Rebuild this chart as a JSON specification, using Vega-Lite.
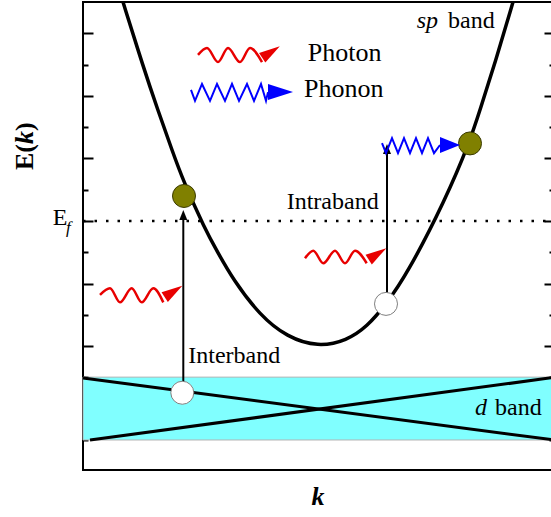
{
  "$schema": "https://vega.github.io/schema/vega-lite/v6.json",
  "width": 471,
  "height": 468,
  "autosize": "none",
  "padding": {"left": 83, "top": 2, "right": 0, "bottom": 47},
  "background": "white",
  "config": {"view": {"stroke": "black", "strokeWidth": 2}, "font": "Liberation Serif"},
  "resolve": {"axis": {"y": "independent"}},
  "datasets": {
    "band": [{"k": -2.36, "k2": 2.35, "E": 0, "E2": 2.01}],
    "dlines": [
      {"s": "a", "k": -2.36, "E": 1.98}, {"s": "a", "k": 2.35, "E": 0.0},
      {"s": "b", "k": -2.29, "E": 0.0}, {"s": "b", "k": 2.35, "E": 2.0}
    ],
    "sp": [
      {"k": -1.96, "E": 14.0}, {"k": -1.76, "E": 11.95}, {"k": -1.61, "E": 10.53}, {"k": -1.47, "E": 9.27},
      {"k": -1.36, "E": 8.3}, {"k": -1.14, "E": 6.74}, {"k": -1.02, "E": 6.04}, {"k": -0.86, "E": 5.13},
      {"k": -0.59, "E": 3.98}, {"k": -0.32, "E": 3.29}, {"k": -0.01, "E": 2.97}, {"k": 0.28, "E": 3.18},
      {"k": 0.48, "E": 3.62}, {"k": 0.67, "E": 4.33}, {"k": 0.88, "E": 5.3}, {"k": 1.26, "E": 7.65},
      {"k": 1.51, "E": 9.55}, {"k": 1.61, "E": 10.55}, {"k": 1.76, "E": 12.05}, {"k": 1.94, "E": 14.0}
    ],
    "fermi": [{"k": -2.36, "E": 7}, {"k": 2.35, "E": 7}],
    "arrows": [{"k": -1.357, "E": 1.51, "E2": 7.1}, {"k": 0.68, "E": 4.35, "E2": 9.25}],
    "heads": [{"k": -1.357, "E": 7.19}, {"k": 0.68, "E": 9.3}],
    "holes": [{"k": -1.367, "E": 1.51}, {"k": 0.67, "E": 4.35}],
    "electrons": [{"k": -1.35, "E": 7.8}, {"k": 1.51, "E": 9.48}],
    "photons": [
      {"w": "w1", "k": -1.21, "E": 12.31}, {"w": "w1", "k": -1.12, "E": 12.53}, {"w": "w1", "k": -1.01, "E": 12.08},
      {"w": "w1", "k": -0.91, "E": 12.53}, {"w": "w1", "k": -0.79, "E": 12.08}, {"w": "w1", "k": -0.69, "E": 12.53},
      {"w": "w1", "k": -0.57, "E": 12.08},
      {"w": "w2", "k": -2.19, "E": 4.64}, {"w": "w2", "k": -2.09, "E": 4.85}, {"w": "w2", "k": -1.99, "E": 4.40},
      {"w": "w2", "k": -1.873, "E": 4.85}, {"w": "w2", "k": -1.773, "E": 4.40}, {"w": "w2", "k": -1.657, "E": 4.85},
      {"w": "w2", "k": -1.557, "E": 4.40},
      {"w": "w3", "k": -0.14, "E": 5.81}, {"w": "w3", "k": -0.057, "E": 6.05}, {"w": "w3", "k": 0.043, "E": 5.65},
      {"w": "w3", "k": 0.16, "E": 6.05}, {"w": "w3", "k": 0.26, "E": 5.65}, {"w": "w3", "k": 0.36, "E": 6.05},
      {"w": "w3", "k": 0.477, "E": 5.65}
    ],
    "photonHeads": [{"k": -0.48, "E": 12.4}, {"k": -1.455, "E": 4.75}, {"k": 0.585, "E": 5.95}],
    "phonons": [
      {"w": "z1", "k": -1.28, "E": 11.19}, {"w": "z1", "k": -1.24, "E": 10.84}, {"w": "z1", "k": -1.17, "E": 11.38},
      {"w": "z1", "k": -1.09, "E": 10.84}, {"w": "z1", "k": -1.02, "E": 11.38}, {"w": "z1", "k": -0.94, "E": 10.84},
      {"w": "z1", "k": -0.87, "E": 11.38}, {"w": "z1", "k": -0.80, "E": 10.84}, {"w": "z1", "k": -0.72, "E": 11.38},
      {"w": "z1", "k": -0.65, "E": 10.84}, {"w": "z1", "k": -0.58, "E": 11.38}, {"w": "z1", "k": -0.53, "E": 10.84},
      {"w": "z1", "k": -0.51, "E": 11.12},
      {"w": "z2", "k": 0.63, "E": 9.49}, {"w": "z2", "k": 0.67, "E": 9.17}, {"w": "z2", "k": 0.73, "E": 9.65},
      {"w": "z2", "k": 0.79, "E": 9.17}, {"w": "z2", "k": 0.85, "E": 9.65}, {"w": "z2", "k": 0.91, "E": 9.17},
      {"w": "z2", "k": 0.97, "E": 9.65}, {"w": "z2", "k": 1.03, "E": 9.17}, {"w": "z2", "k": 1.09, "E": 9.65},
      {"w": "z2", "k": 1.15, "E": 9.17}, {"w": "z2", "k": 1.21, "E": 9.43}
    ],
    "phononHeadLegend": [{"k": -0.385, "E": 11.12}],
    "phononHeadIntra": [{"k": 1.31, "E": 9.43}],
    "legendText": [{"t": "Photon", "k": -0.113, "E": 12.124}, {"t": "Phonon", "k": -0.15, "E": 10.973}],
    "plainText": [
      {"t": "Intraband", "k": -0.323, "E": 7.374}, {"t": "Interband", "k": -1.307, "E": 2.452},
      {"t": "band", "k": 1.29, "E": 13.16}, {"t": "band", "k": 1.76, "E": 0.8}, {"t": "E", "k": -2.663, "E": 6.87}
    ],
    "italicText": [{"t": "sp", "k": 0.977, "E": 13.16}, {"t": "d", "k": 1.56, "E": 0.8}],
    "subText": [{"t": "f", "k": -2.53, "E": 6.62}],
    "titleBold": [{"t": "E(", "k": -2.86, "E": 8.63}, {"t": ")", "k": -2.86, "E": 9.877}],
    "titleItalic": [{"t": "k", "k": -2.86, "E": 9.46}],
    "xTitle": [{"t": "k", "k": -0.01, "E": -2.08}]
  },
  "encoding": {
    "x": {"field": "k", "type": "quantitative", "scale": {"domain": [-2.36, 2.35], "nice": false, "zero": false}, "axis": null},
    "y": {"field": "E", "type": "quantitative", "scale": {"domain": [-0.959, 14.0], "nice": false, "zero": false}, "axis": null}
  },
  "layer": [
    {
      "data": {"name": "band"},
      "mark": {"type": "rect", "fill": "#80ffff", "stroke": "#b4b4b4", "strokeWidth": 1},
      "encoding": {
        "x2": {"field": "k2"},
        "y": {"field": "E", "type": "quantitative", "scale": {"domain": [-0.959, 14.0], "nice": false, "zero": false},
              "axis": {"orient": "left", "values": [0,1,2,3,4,5,6,7,8,9,10,11,12,13], "domain": false, "labels": false, "grid": false, "title": null,
                       "tickColor": "black", "tickWidth": 2,
                       "tickSize": {"condition": {"test": "datum.value % 2 === 1", "value": -10}, "value": -5}}},
        "y2": {"field": "E2"}
      }
    },
    {
      "data": {"name": "dlines"},
      "mark": {"type": "line", "color": "black", "strokeWidth": 3},
      "encoding": {
        "detail": {"field": "s"},
        "y": {"field": "E", "type": "quantitative", "scale": {"domain": [-0.959, 14.0], "nice": false, "zero": false},
              "axis": {"orient": "right", "values": [0,1,2,3,4,5,6,7,8,9,10,11,12,13], "domain": false, "labels": false, "grid": false, "title": null,
                       "tickColor": "black", "tickWidth": 2,
                       "tickSize": {"condition": {"test": "datum.value % 2 === 1", "value": -10}, "value": -5}}}
      }
    },
    {
      "data": {"name": "fermi"},
      "mark": {"type": "line", "color": "black", "strokeWidth": 2.5, "strokeDash": [2.5, 9], "strokeCap": "butt"},
      "encoding": {}
    },
    {
      "data": {"name": "sp"},
      "mark": {"type": "line", "color": "black", "strokeWidth": 3.5, "interpolate": "basis"},
      "encoding": {}
    },
    {
      "data": {"name": "arrows"},
      "mark": {"type": "rule", "color": "black", "strokeWidth": 2},
      "encoding": {"y2": {"field": "E2"}}
    },
    {
      "data": {"name": "heads"},
      "mark": {"type": "point", "shape": "M0,-1L0.8,1L-0.8,1Z", "size": 100, "filled": true, "color": "black", "opacity": 1},
      "encoding": {}
    },
    {
      "data": {"name": "holes"},
      "mark": {"type": "point", "shape": "circle", "size": 529, "filled": true, "fill": "white", "stroke": "#7f7f7f", "strokeWidth": 1, "opacity": 1},
      "encoding": {}
    },
    {
      "data": {"name": "electrons"},
      "mark": {"type": "point", "shape": "circle", "size": 529, "filled": true, "fill": "#808000", "stroke": "#3a3a00", "strokeWidth": 1, "opacity": 1},
      "encoding": {}
    },
    {
      "data": {"name": "photons"},
      "mark": {"type": "line", "color": "#e80000", "strokeWidth": 2.5, "interpolate": "monotone"},
      "encoding": {"detail": {"field": "w"}}
    },
    {
      "data": {"name": "photonHeads"},
      "mark": {"type": "point", "shape": "M1,0L-1,-0.55L-1,0.55Z", "size": 441, "angle": 327, "filled": true, "color": "#e80000", "opacity": 1},
      "encoding": {}
    },
    {
      "data": {"name": "phonons"},
      "mark": {"type": "line", "color": "#0000ff", "strokeWidth": 2},
      "encoding": {"detail": {"field": "w"}}
    },
    {
      "data": {"name": "phononHeadLegend"},
      "mark": {"type": "point", "shape": "M1,0L-1,-0.64L-1,0.64Z", "size": 625, "filled": true, "color": "#0000ff", "opacity": 1},
      "encoding": {}
    },
    {
      "data": {"name": "phononHeadIntra"},
      "mark": {"type": "point", "shape": "M1,0L-1,-0.8L-1,0.8Z", "size": 400, "filled": true, "color": "#0000ff", "opacity": 1},
      "encoding": {}
    },
    {
      "data": {"name": "legendText"},
      "mark": {"type": "text", "font": "Liberation Serif", "fontSize": 26, "align": "left", "baseline": "alphabetic", "color": "black"},
      "encoding": {"text": {"field": "t"}}
    },
    {
      "data": {"name": "plainText"},
      "mark": {"type": "text", "font": "Liberation Serif", "fontSize": 24, "align": "left", "baseline": "alphabetic", "color": "black"},
      "encoding": {"text": {"field": "t"}}
    },
    {
      "data": {"name": "italicText"},
      "mark": {"type": "text", "font": "Liberation Serif", "fontSize": 24, "fontStyle": "italic", "align": "left", "baseline": "alphabetic", "color": "black"},
      "encoding": {"text": {"field": "t"}}
    },
    {
      "data": {"name": "subText"},
      "mark": {"type": "text", "font": "Liberation Serif", "fontSize": 17, "fontStyle": "italic", "align": "left", "baseline": "alphabetic", "color": "black"},
      "encoding": {"text": {"field": "t"}}
    },
    {
      "data": {"name": "titleBold"},
      "mark": {"type": "text", "font": "Liberation Serif", "fontSize": 26, "fontWeight": "bold", "angle": 270, "align": "left", "baseline": "alphabetic", "color": "black"},
      "encoding": {"text": {"field": "t"}}
    },
    {
      "data": {"name": "titleItalic"},
      "mark": {"type": "text", "font": "Liberation Serif", "fontSize": 26, "fontWeight": "bold", "fontStyle": "italic", "angle": 270, "align": "left", "baseline": "alphabetic", "color": "black"},
      "encoding": {"text": {"field": "t"}}
    },
    {
      "data": {"name": "xTitle"},
      "mark": {"type": "text", "font": "Liberation Serif", "fontSize": 26, "fontWeight": "bold", "fontStyle": "italic", "align": "center", "baseline": "alphabetic", "color": "black"},
      "encoding": {"text": {"field": "t"}}
    }
  ]
}
